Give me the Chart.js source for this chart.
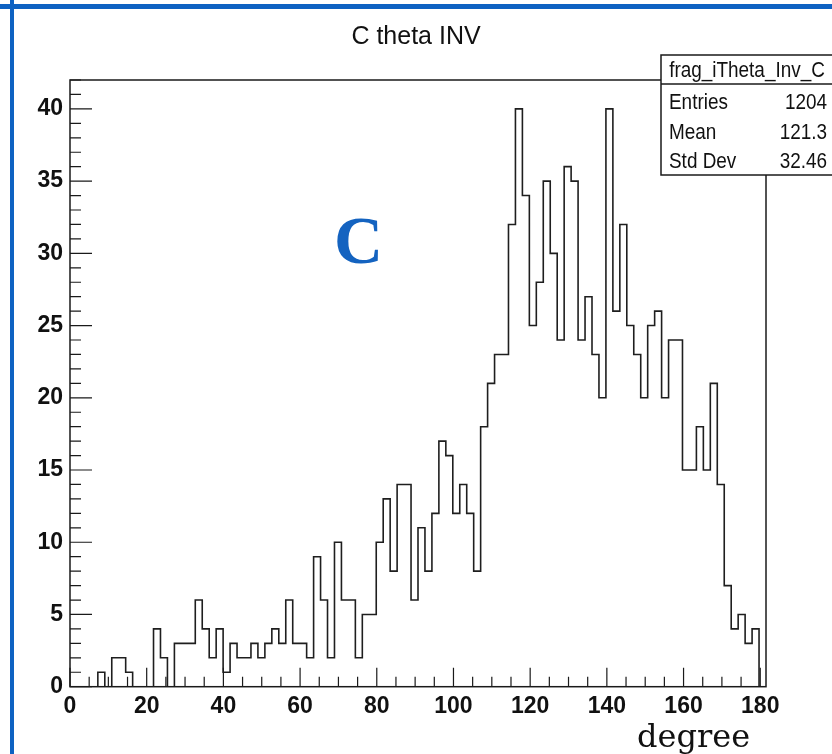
<!DOCTYPE html>
<html lang="en">
<head>
<meta charset="UTF-8">
<title>C theta INV</title>
<script src="https://cdn.jsdelivr.net/npm/chart.js"></script>
<style>
  body { margin: 0; background: #fff; }
  canvas { display: block; }
</style>
</head>
<body>
<canvas id="thetaChart" width="832" height="754"></canvas>
<script>
// frag_iTheta_Inv_C : 100 bins between 0 and 181.5 degrees
const xMin = 0;
const xMax = 181.5;
const binCounts = [
  0, 0, 0, 0, 1, 0, 2, 2, 1, 0,
  0, 0, 4, 2, 0, 3, 3, 3, 6, 4,
  2, 4, 1, 3, 2, 2, 3, 2, 3, 4,
  3, 6, 3, 3, 2, 9, 6, 2, 10, 6,
  6, 2, 5, 5, 10, 13, 8, 14, 14, 6,
  11, 8, 12, 17, 16, 12, 14, 12, 8, 18,
  21, 23, 23, 32, 40, 34, 25, 28, 35, 30,
  24, 36, 35, 24, 27, 23, 20, 40, 26, 32,
  25, 23, 20, 25, 26, 20, 24, 24, 15, 15,
  18, 15, 21, 14, 7, 4, 5, 3, 4, 0
];
const xTickValues = [0, 20, 40, 60, 80, 100, 120, 140, 160, 180];
const yTickValues = [0, 5, 10, 15, 20, 25, 30, 35, 40];
const statLabels = ['Entries', 'Mean', 'Std Dev'];
const statValues = ['1204', '121.3', '32.46'];

const binWidth = (xMax - xMin) / binCounts.length;

// step outline: each point opens a bin, the last one closes the range
const outline = binCounts.map((c, i) => ({ x: xMin + i * binWidth, y: c }));
outline.push({ x: xMax, y: 0 });

const sans = "'Liberation Sans', Arial, sans-serif";

// condensed text, like the stats box font
function narrowText(ctx, text, x, y, align, squeeze) {
  ctx.save();
  ctx.translate(x, y);
  ctx.scale(squeeze, 1);
  ctx.textAlign = align;
  ctx.fillText(text, 0, 0);
  ctx.restore();
}

// frame, inward ticks, title, stats box and the extra labels
const rootStyle = {
  id: 'rootStyle',
  afterDraw(chart) {
    const ctx = chart.ctx;
    const area = chart.chartArea;
    const xs = chart.scales.x;
    const ys = chart.scales.y;

    ctx.save();
    ctx.strokeStyle = '#1a1a1a';
    ctx.lineWidth = 1.5;
    ctx.strokeRect(area.left, area.top, area.right - area.left, area.bottom - area.top);

    ctx.lineWidth = 1.2;
    ctx.beginPath();
    for (let v = 0; v <= ys.max; v += 1) {
      const py = ys.getPixelForValue(v);
      const len = yTickValues.includes(v) ? 22 : 11;
      ctx.moveTo(area.left, py);
      ctx.lineTo(area.left + len, py);
    }
    for (let v = 0; v <= xs.max; v += 5) {
      const px = xs.getPixelForValue(v);
      const len = xTickValues.includes(v) ? 19 : 10;
      ctx.moveTo(px, area.bottom);
      ctx.lineTo(px, area.bottom - len);
    }
    ctx.stroke();

    // histogram title, centred on the pad
    ctx.fillStyle = '#111';
    ctx.textBaseline = 'alphabetic';
    ctx.font = '25px ' + sans;
    ctx.textAlign = 'center';
    ctx.fillText('C theta INV', 416, 44);

    // stats box
    const bx = 661, by = 55, bw = 175, bh = 120, head = 29;
    ctx.fillStyle = '#fff';
    ctx.fillRect(bx, by, bw, bh);
    ctx.lineWidth = 1.5;
    ctx.strokeRect(bx, by, bw, bh);
    ctx.beginPath();
    ctx.moveTo(bx, by + head);
    ctx.lineTo(bx + bw, by + head);
    ctx.stroke();

    ctx.fillStyle = '#111';
    ctx.font = '22px ' + sans;
    narrowText(ctx, 'frag_iTheta_Inv_C', 747, 77, 'center', 0.86);
    statLabels.forEach((label, i) => {
      const base = 109 + i * 29.5;
      narrowText(ctx, label, 669, base, 'left', 0.86);
      narrowText(ctx, statValues[i], 827, base, 'right', 0.86);
    });

    // big panel letter
    ctx.fillStyle = '#1463c0';
    ctx.textAlign = 'left';
    ctx.font = "bold 68px 'Liberation Serif', serif";
    ctx.fillText('C', 334, 263);

    // axis unit
    ctx.fillStyle = '#111';
    ctx.font = "32px 'DejaVu Serif', serif";
    ctx.fillText('degree', 637, 747);

    // blue frame round the panel
    ctx.fillStyle = '#0e62c2';
    ctx.fillRect(0, 4, 832, 5);
    ctx.fillRect(10, 0, 4, 754);
    ctx.restore();
  }
};

new Chart(document.getElementById('thetaChart'), {
  type: 'line',
  data: {
    datasets: [{
      label: 'frag_iTheta_Inv_C',
      data: outline,
      stepped: 'before',
      borderColor: '#1e1e1e',
      borderWidth: 1.6,
      pointRadius: 0,
      fill: false,
      tension: 0
    }]
  },
  options: {
    responsive: false,
    animation: false,
    layout: { padding: { left: 0, right: 66, top: 80, bottom: 0 } },
    plugins: {
      legend: { display: false },
      tooltip: { enabled: false },
      title: { display: false }
    },
    scales: {
      x: {
        type: 'linear',
        min: xMin,
        max: xMax,
        grid: { display: false, drawTicks: false },
        border: { display: false },
        afterBuildTicks: s => { s.ticks = xTickValues.map(v => ({ value: v })); },
        afterFit: s => { s.height = 67.3; },
        ticks: {
          padding: 6,
          maxRotation: 0,
          color: '#111',
          font: { family: sans, size: 23, weight: 'bold' }
        }
      },
      y: {
        min: 0,
        max: 42,
        grid: { display: false, drawTicks: false },
        border: { display: false },
        afterBuildTicks: s => { s.ticks = yTickValues.map(v => ({ value: v })); },
        afterFit: s => { s.width = 70; },
        ticks: {
          padding: 7,
          color: '#111',
          font: { family: sans, size: 23, weight: 'bold' }
        }
      }
    }
  },
  plugins: [rootStyle]
});
</script>
</body>
</html>
